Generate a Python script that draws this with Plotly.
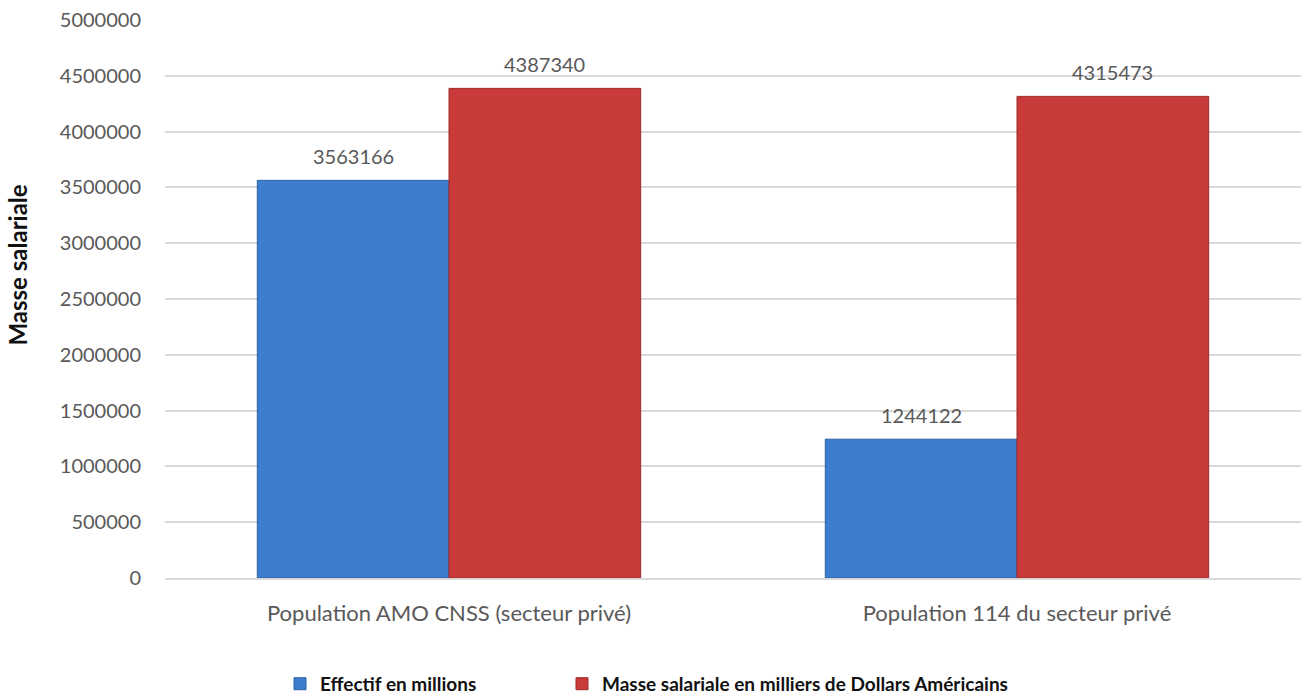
import plotly.graph_objects as go

categories = ["Population AMO CNSS (secteur privé)", "Population 114 du secteur privé"]
effectif = [3563166, 1244122]
masse = [4387340, 4315473]
series_names = ["Effectif en millions", "Masse salariale en milliers de Dollars Américains"]
tick_vals = [0, 500000, 1000000, 1500000, 2000000, 2500000, 3000000, 3500000, 4000000, 4500000, 5000000]

FONT = "Lato, 'Open Sans', sans-serif"
BLUE = "#3E7DCD"
RED = "#C83B39"
LABEL = "#595959"

W, H = 1301, 695
ML, MR, MT, MB = 165, 0, 20, 117
BARGAP = 0.325

fig = go.Figure()
fig.add_trace(go.Bar(
    x=categories, y=effectif, name=series_names[0], legend="legend",
    marker=dict(color=BLUE, line=dict(color="#2F62A3", width=1)),
))
fig.add_trace(go.Bar(
    x=categories, y=masse, name=series_names[1], legend="legend2",
    marker=dict(color=RED, line=dict(color="#9E2B2A", width=1)),
))

# value labels above each bar, shifted horizontally to the bar's slot in the group
plot_w = W - ML - MR
bar_px = plot_w / len(categories) * (1 - BARGAP) / 2
for values, shift in ((effectif, -bar_px / 2), (masse, bar_px / 2)):
    for cat, v in zip(categories, values):
        fig.add_annotation(
            x=cat, y=v, text=str(v), showarrow=False,
            xshift=shift, yshift=10, yanchor="bottom",
            font=dict(family=FONT, size=20, color=LABEL),
        )

# y-axis title placed slightly above the vertical centre of the plot
fig.add_annotation(
    text="<b>Masse salariale</b>", textangle=-90, showarrow=False,
    xref="paper", yref="paper", x=-(ML - 18) / plot_w, y=0.56,
    xanchor="center", yanchor="middle",
    font=dict(family=FONT, size=24, color="#111111"),
)

legend_style = dict(orientation="h", xref="container", yref="container",
                    xanchor="left", y=0.016, yanchor="middle",
                    font=dict(family=FONT, size=19, color="#111111", weight="bold"),
                    itemwidth=30)

fig.update_layout(
    width=W, height=H,
    margin=dict(l=ML, r=MR, t=MT, b=MB),
    paper_bgcolor="white", plot_bgcolor="white",
    barmode="group", bargap=BARGAP, bargroupgap=0,
    font=dict(family=FONT, size=20, color=LABEL),
    showlegend=True,
    legend=dict(x=280 / W, **legend_style),
    legend2=dict(x=562 / W, **legend_style),
    xaxis=dict(showgrid=False, showline=True, linecolor="#D9D9D9", linewidth=1.5,
               automargin=False, ticks="", ticklabelstandoff=15,
               tickfont=dict(family=FONT, size=22, color=LABEL)),
    yaxis=dict(range=[0, 5000000], tickvals=tick_vals, ticktext=[str(v) for v in tick_vals],
               showgrid=True, gridcolor="#D9D9D9", gridwidth=1.5, zeroline=False,
               automargin=False, ticklabelstandoff=23,
               tickfont=dict(family=FONT, size=20, color=LABEL)),
)

fig.write_html("out.html")
